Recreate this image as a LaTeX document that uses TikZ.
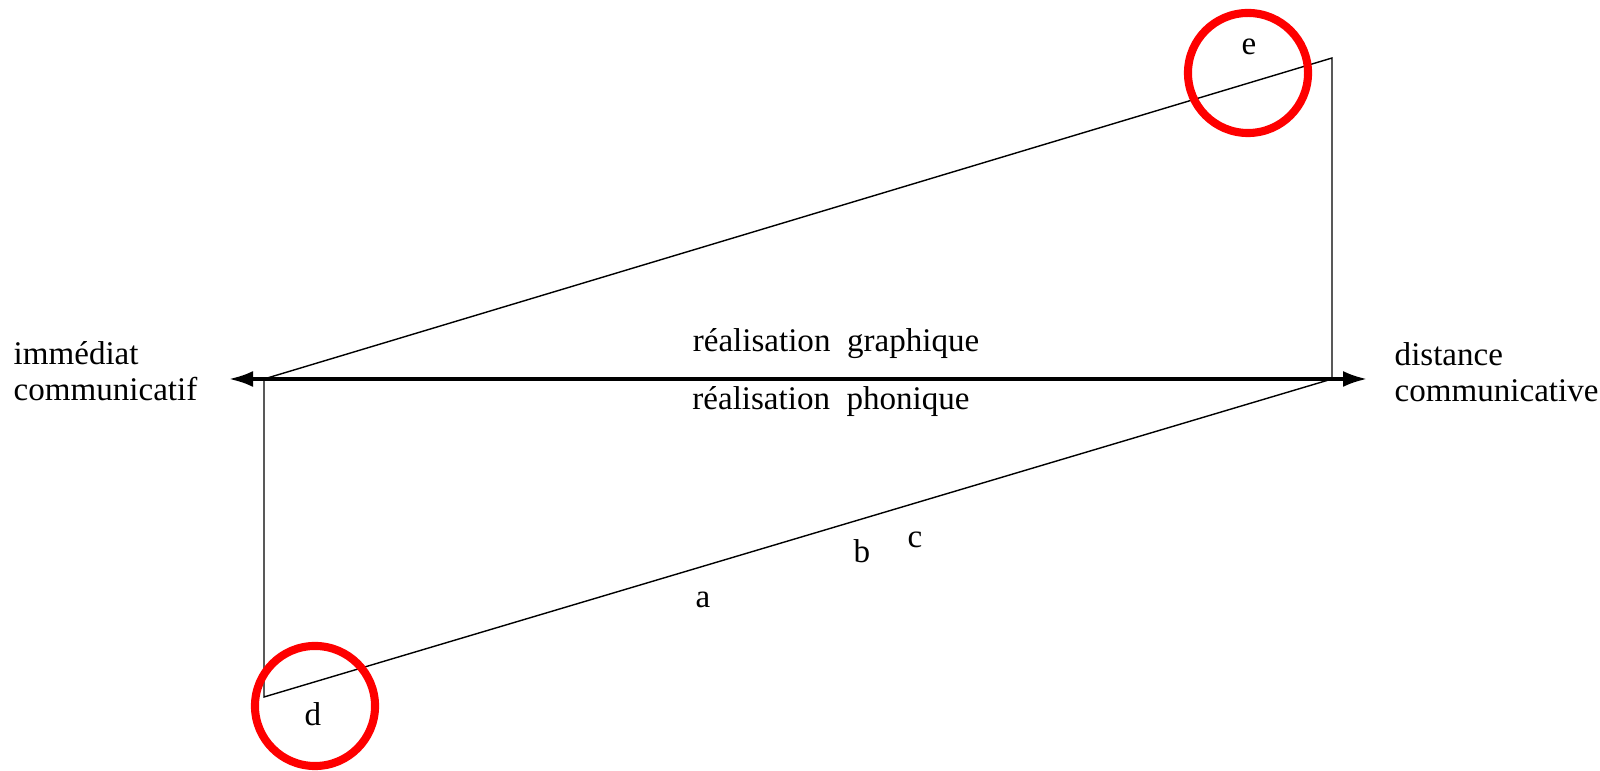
\documentclass[tikz,border=0pt]{standalone}
\usepackage{fontspec}
\setmainfont{Liberation Serif}
\usetikzlibrary{arrows.meta}
\definecolor{Marque}{HTML}{FE0000}

\begin{document}
\begin{tikzpicture}[x=0.01cm,y=-0.01cm,
    txt/.style={font=\fontsize{9.4}{10.2}\selectfont,inner sep=0pt,anchor=base},
    side/.style={txt,align=left,anchor=west},
    frame/.style={draw=black,line width=0.4pt},
    axis/.style={{Latex[length=2.4mm,width=1.6mm]}-{Latex[length=2.4mm,width=1.6mm]},line width=0.95pt},
    ring/.style={draw=Marque,line width=2.3pt,circle,minimum size=1.2cm,inner sep=0pt}
  ]
    \useasboundingbox (0,0) rectangle (1600,771);
    \coordinate (gauche) at (264,379);
    \coordinate (droite) at (1332,379);
    \coordinate (haut) at (1332,58);
    \coordinate (bas) at (264,697);
    \coordinate (axeG) at (229,379);
    \coordinate (axeD) at (1367,379);
    \draw[frame] (gauche)--(haut)--(droite)--(bas)--cycle;
    \draw[axis] (axeG)--(axeD);
    \node[side] (imm) at (13,371) {immédiat\\communicatif};
    \node[side] (dist) at (1394,372) {distance\\communicative};
    \node[txt] (graph) at (836,352) {réalisation\hspace{0.5em}graphique};
    \node[txt] (phon) at (831,410) {réalisation\hspace{0.5em}phonique};
    \node[txt] (a) at (703,608) {a};
    \node[txt] (b) at (862,563) {b};
    \node[txt] (c) at (915,548) {c};
    \node[txt] (d) at (313,726) {d};
    \node[txt] (e) at (1249,55) {e};
    \node[ring] (cercleD) at (315,706) {};
    \node[ring] (cercleE) at (1248,73) {};
  \end{tikzpicture}
\end{document}
